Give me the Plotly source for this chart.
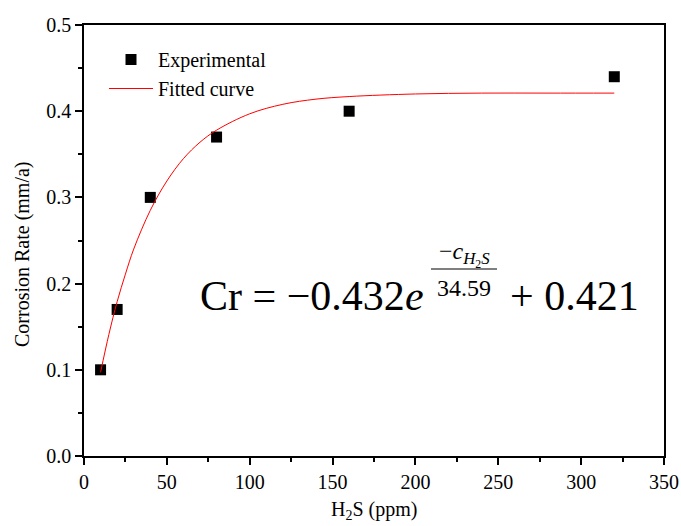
import plotly.graph_objects as go

# Experimental data
h2s_exp = [10, 20, 40, 80, 160, 320]
cr_exp = [0.10, 0.17, 0.30, 0.37, 0.40, 0.44]

# Fitted curve
h2s_fit = [10, 15, 20, 25, 30, 40, 50, 60, 70, 80, 100, 120, 140, 160, 200, 240, 280, 320]
cr_fit = [0.097, 0.141, 0.179, 0.211, 0.240, 0.285, 0.319, 0.345, 0.364, 0.378,
          0.397, 0.408, 0.414, 0.417, 0.420, 0.421, 0.421, 0.421]

x_ticks = [0, 50, 100, 150, 200, 250, 300, 350]
y_ticks = [0.0, 0.1, 0.2, 0.3, 0.4, 0.5]
y_ticklabels = ["0.0", "0.1", "0.2", "0.3", "0.4", "0.5"]

x_title = "H<sub>2</sub>S (ppm)"
y_title = "Corrosion Rate (mm/a)"

W, H = 681, 526
L, R, T, B = 84, 17, 25, 70
PW, PH = W - L - R, H - T - B

def px(x):
    return (x - L) / PW

def py(y):
    return (H - B - y) / PH

FONT = "Liberation Serif"
FS = 20

fig = go.Figure()
fig.add_trace(go.Scatter(x=h2s_exp, y=cr_exp, mode="markers", name="Experimental",
                         marker=dict(symbol="square", size=11, color="black")))
fig.add_trace(go.Scatter(x=h2s_fit, y=cr_fit, mode="lines", name="Fitted curve",
                         line=dict(color="red", width=1, shape="spline")))

axis_common = dict(showline=True, linecolor="black", linewidth=1.5, mirror=True,
                   ticks="outside", ticklen=7, tickwidth=1.5, tickcolor="black",
                   showgrid=False, zeroline=False, automargin=False,
                   tickfont=dict(family=FONT, size=FS, color="black"))

fig.update_xaxes(range=[0, 350], tickvals=x_ticks,
                 minor=dict(dtick=25, ticks="outside", ticklen=4, tickwidth=1.5, tickcolor="black"),
                 **axis_common)
fig.update_yaxes(range=[0, 0.5], tickvals=y_ticks, ticktext=y_ticklabels,
                 minor=dict(dtick=0.05, ticks="outside", ticklen=4, tickwidth=1.5, tickcolor="black"),
                 **axis_common)

ann = []
# Axis titles
ann.append(dict(x=px(374), y=py(511), xref="paper", yref="paper", xanchor="center", yanchor="middle",
                text=x_title, showarrow=False, font=dict(family=FONT, size=FS, color="black")))
ann.append(dict(x=px(22), y=py(254), xref="paper", yref="paper", xanchor="center", yanchor="middle",
                text=y_title, textangle=-90, showarrow=False,
                font=dict(family=FONT, size=FS, color="black")))
# Equation
ann.append(dict(x=px(426), y=py(296), xref="paper", yref="paper", xanchor="right", yanchor="middle",
                text="Cr = \u22120.432<i>e</i>", showarrow=False,
                font=dict(family=FONT, size=42, color="black")))
ann.append(dict(x=px(464), y=py(254), xref="paper", yref="paper", xanchor="center", yanchor="middle",
                text="\u2212<i>c</i><sub><i>H</i><sub>2</sub><i>S</i></sub>", showarrow=False,
                font=dict(family=FONT, size=24, color="black")))
ann.append(dict(x=px(464), y=py(288), xref="paper", yref="paper", xanchor="center", yanchor="middle",
                text="34.59", showarrow=False,
                font=dict(family=FONT, size=24, color="black")))
ann.append(dict(x=px(508), y=py(296), xref="paper", yref="paper", xanchor="left", yanchor="middle",
                text="+ 0.421", showarrow=False,
                font=dict(family=FONT, size=42, color="black")))
fig.add_shape(type="line", xref="paper", yref="paper", x0=px(431), x1=px(497), y0=py(269), y1=py(269),
              line=dict(color="#555", width=1.5))

fig.update_layout(
    width=W, height=H,
    margin=dict(l=L, r=R, t=T, b=B),
    font=dict(family=FONT, size=FS, color="black"),
    paper_bgcolor="white", plot_bgcolor="white",
    annotations=ann,
    showlegend=True,
    legend=dict(x=px(104), y=py(40), xanchor="left", yanchor="top", bgcolor="rgba(0,0,0,0)",
                font=dict(family=FONT, size=FS, color="black"), tracegroupgap=0,
                itemwidth=44),
)

fig.write_html("out.html")
